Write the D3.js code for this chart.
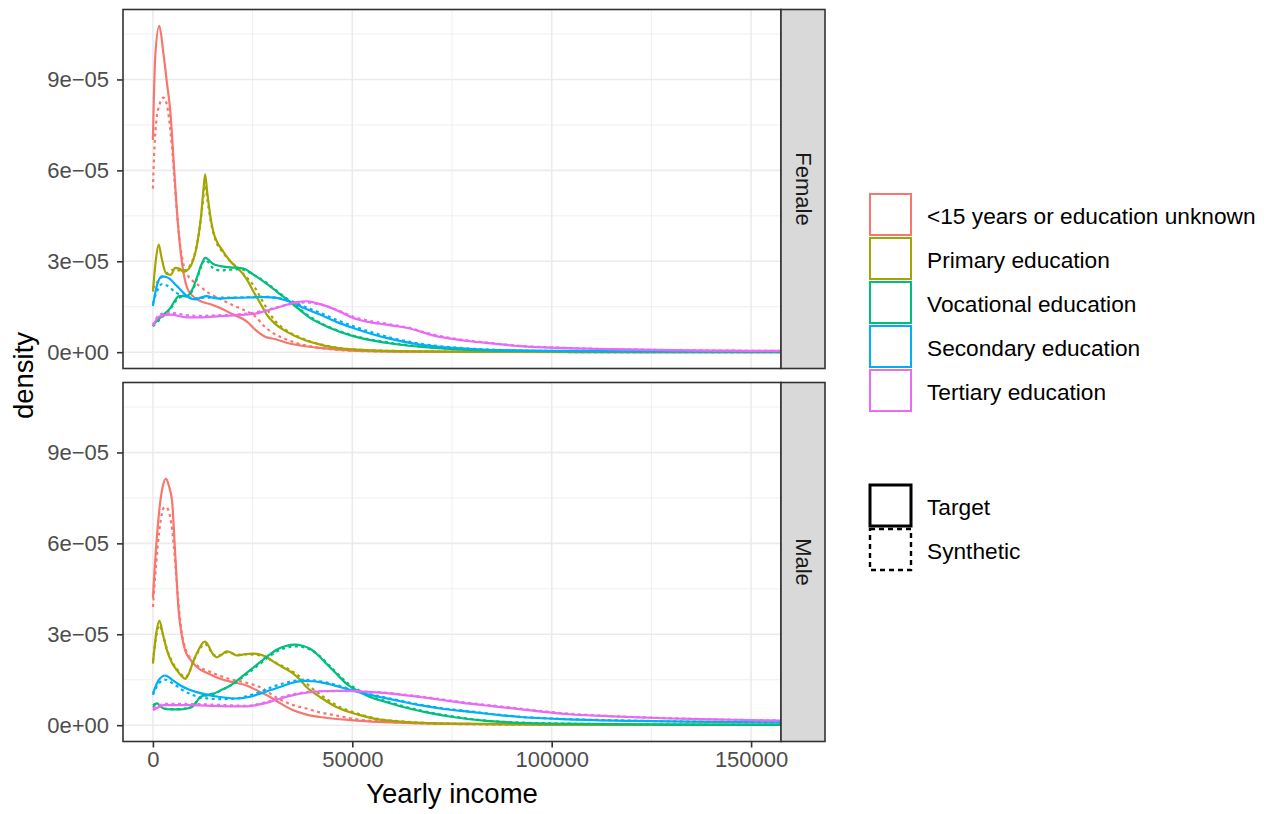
<!DOCTYPE html>
<html lang="en">
<head>
<meta charset="UTF-8">
<title>Income density by education</title>
<script src="https://d3js.org/d3.v7.min.js"></script>
<style>
  body { margin: 0; background: #fff; }
  text { font-family: "Liberation Sans", Arial, Helvetica, sans-serif; }
</style>
</head>
<body>
<script>
// categories and series, densities in units of 1e-5
var categories = ["<15 years or education unknown", "Primary education", "Vocational education", "Secondary education", "Tertiary education"];
var colors = ["#F8766D", "#A3A500", "#00BF7D", "#00B0F6", "#E76BF3"];
var genders = ["Female", "Male"];
var types = ["Target", "Synthetic"];
var xTicks = [0, 50000, 100000, 150000];
var xMinor = [25000, 75000, 125000];
var yTicks = [0, 3e-5, 6e-5, 9e-5];
var yMinor = [1.5e-5, 4.5e-5, 7.5e-5, 10.5e-5];
var xLimits = [0, 150000];
var unit = 1e-5;

// [income, density/1e-5] pairs, one list per category
var femaleTarget = [
  [[0,7.0],[600,9.8],[1600,10.77],[2600,9.9],[3500,8.9],[4400,7.9],[5200,6.3],[6000,4.7],[6800,3.5],[7700,2.6],[8500,2.15],[10000,1.85],[12000,1.68],[14500,1.58],[17000,1.45],[20000,1.25],[23500,1.02],[26000,0.7],[28000,0.52],[31000,0.42],[33500,0.31],[37000,0.22],[42000,0.14],[50000,0.05],[60000,0.02],[80000,0.01],[160000,0]],
  [[0,2.0],[700,3.0],[1450,3.55],[2200,3.1],[3300,2.6],[4500,2.55],[5600,2.78],[6700,2.75],[7700,2.65],[9000,2.75],[10000,3.0],[11000,3.5],[12000,4.4],[12700,5.4],[13100,5.87],[13600,5.3],[14400,4.5],[15200,3.95],[16000,3.66],[17500,3.35],[19400,3.0],[21000,2.8],[22700,2.56],[24000,2.3],[25200,2.0],[27000,1.6],[28500,1.25],[30500,0.95],[33500,0.68],[37700,0.42],[42000,0.25],[46000,0.14],[55000,0.06],[65000,0.03],[80000,0.01],[160000,0]],
  [[0,0.9],[1500,1.1],[2700,1.24],[4400,1.46],[5500,1.7],[6500,1.85],[8500,1.85],[10000,2.1],[11000,2.45],[12200,2.9],[13100,3.11],[14000,3.05],[14800,2.94],[16900,2.84],[19400,2.8],[21500,2.78],[22700,2.76],[25200,2.56],[27700,2.34],[31000,2.01],[35200,1.57],[39400,1.13],[44400,0.8],[50200,0.53],[58500,0.31],[66900,0.18],[75200,0.1],[92000,0.04],[120000,0.02],[160000,0.01]],
  [[0,1.52],[1000,2.2],[2300,2.5],[3300,2.48],[4400,2.4],[5500,2.25],[6500,2.12],[8500,1.85],[10600,1.74],[12000,1.8],[13550,1.85],[15000,1.8],[16900,1.77],[20000,1.79],[25200,1.81],[28000,1.82],[31000,1.79],[33000,1.72],[35200,1.63],[38000,1.45],[41900,1.24],[46000,1.0],[50200,0.8],[58500,0.47],[66900,0.25],[75200,0.14],[83600,0.08],[100000,0.04],[130000,0.02],[160000,0.01]],
  [[0,0.86],[1000,1.1],[1900,1.19],[4400,1.24],[8500,1.15],[12000,1.15],[16900,1.19],[21000,1.22],[25200,1.26],[28000,1.35],[31000,1.46],[34000,1.58],[36000,1.65],[38600,1.68],[41000,1.62],[43500,1.52],[47000,1.33],[50200,1.13],[54000,1.0],[58500,0.91],[62000,0.84],[64400,0.78],[67500,0.66],[71000,0.53],[75000,0.44],[79400,0.36],[85000,0.29],[91900,0.2],[100000,0.15],[115000,0.1],[130000,0.07],[145000,0.05],[160000,0.04]]
];
var femaleSynthetic = [
  [[0,5.4],[300,6.5],[700,7.4],[1500,8.1],[2700,8.4],[3600,8.1],[4400,7.3],[5000,6.4],[5800,5.0],[6600,3.8],[7500,3.0],[8500,2.6],[10000,2.35],[11500,2.2],[14000,1.95],[17000,1.75],[20000,1.55],[23000,1.38],[25500,1.2],[28000,0.85],[30500,0.6],[33500,0.42],[36000,0.3],[40000,0.18],[46000,0.08],[55000,0.03],[80000,0.01],[160000,0]],
  [[0,2.1],[1000,2.3],[2000,2.45],[3500,2.6],[5000,2.72],[6500,2.7],[8000,2.7],[9500,2.9],[10500,3.25],[11500,3.9],[12400,4.8],[13100,5.5],[13700,5.0],[14400,4.4],[15200,3.9],[16000,3.6],[17500,3.3],[19400,3.0],[21000,2.8],[22700,2.58],[24000,2.4],[25500,2.15],[27000,1.8],[28500,1.45],[30500,1.05],[33500,0.72],[37700,0.44],[42000,0.26],[46000,0.15],[55000,0.06],[65000,0.03],[80000,0.01],[160000,0]],
  [[0,0.85],[1500,1.05],[2700,1.2],[4400,1.42],[5500,1.65],[6500,1.8],[8500,1.85],[10000,2.05],[11000,2.4],[12200,2.85],[13100,3.05],[14000,2.95],[15000,2.78],[16900,2.7],[19400,2.72],[21500,2.74],[22700,2.72],[25200,2.56],[27700,2.36],[31000,2.03],[35200,1.6],[39400,1.17],[44400,0.82],[50200,0.55],[58500,0.33],[66900,0.19],[75200,0.11],[92000,0.05],[120000,0.02],[160000,0.01]],
  [[0,1.6],[1000,2.0],[2300,2.25],[3500,2.2],[4500,2.1],[6000,1.95],[8000,1.85],[10600,1.78],[13500,1.8],[16900,1.8],[20000,1.8],[25200,1.82],[28000,1.83],[31000,1.8],[33000,1.74],[35200,1.66],[38000,1.5],[41900,1.3],[46000,1.07],[50200,0.86],[58500,0.52],[66900,0.28],[75200,0.16],[83600,0.09],[100000,0.04],[130000,0.02],[160000,0.01]],
  [[0,0.9],[1000,1.15],[1900,1.25],[4400,1.3],[8500,1.22],[12000,1.2],[16900,1.22],[21000,1.25],[25200,1.3],[28000,1.38],[31000,1.48],[34000,1.57],[36000,1.62],[38600,1.64],[41000,1.6],[43500,1.52],[47000,1.35],[50200,1.17],[54000,1.04],[58500,0.94],[62000,0.86],[64400,0.8],[67500,0.68],[71000,0.56],[75000,0.46],[79400,0.38],[85000,0.3],[91900,0.21],[100000,0.16],[115000,0.1],[130000,0.07],[145000,0.05],[160000,0.04]]
];
var maleTarget = [
  [[0,4.2],[500,5.3],[1050,6.3],[1875,7.4],[2600,7.95],[3300,8.14],[4000,7.9],[4800,7.4],[5600,5.64],[6450,3.78],[7200,3.0],[8100,2.46],[9500,2.15],[11000,1.92],[14000,1.7],[16900,1.53],[20000,1.42],[23500,1.31],[26500,1.12],[29400,0.93],[32000,0.72],[35200,0.49],[38500,0.35],[41900,0.27],[50200,0.16],[62000,0.08],[75000,0.04],[100000,0.02],[160000,0.01]],
  [[0,2.03],[800,3.0],[1625,3.45],[2500,3.0],[3550,2.46],[4800,2.05],[6050,1.81],[7200,1.62],[8100,1.53],[9000,1.7],[10200,2.14],[11500,2.5],[12500,2.72],[13100,2.76],[14000,2.6],[15000,2.35],[16000,2.24],[17200,2.32],[18500,2.44],[19800,2.38],[21000,2.3],[23000,2.34],[25200,2.36],[27700,2.3],[29500,2.16],[31000,2.03],[33000,1.88],[35200,1.7],[37000,1.48],[38500,1.26],[41900,0.93],[46000,0.6],[51900,0.33],[56000,0.2],[62000,0.12],[75000,0.05],[100000,0.02],[160000,0.01]],
  [[0,0.66],[1000,0.72],[2000,0.62],[2700,0.55],[4500,0.52],[6900,0.52],[8500,0.55],[9800,0.6],[11000,0.78],[11900,0.93],[13500,1.0],[15200,1.04],[17000,1.15],[19400,1.31],[22700,1.64],[26900,2.08],[29000,2.3],[31000,2.49],[33500,2.62],[35600,2.66],[37500,2.62],[39400,2.52],[41500,2.3],[43500,2.03],[46000,1.7],[48500,1.37],[51500,1.12],[54400,0.93],[58500,0.76],[62700,0.6],[68000,0.44],[75200,0.27],[83600,0.14],[100000,0.05],[130000,0.02],[160000,0.01]],
  [[0,1.04],[1500,1.5],[3100,1.64],[5000,1.48],[6900,1.31],[9000,1.18],[11000,1.09],[14000,0.99],[16900,0.93],[21000,0.88],[24000,0.93],[26900,1.04],[29500,1.16],[31900,1.26],[35000,1.4],[37700,1.46],[40000,1.45],[41900,1.42],[45000,1.33],[48500,1.2],[52500,1.06],[56900,0.93],[62000,0.79],[66900,0.66],[72000,0.55],[79400,0.44],[85000,0.36],[91900,0.27],[104400,0.19],[120000,0.14],[140000,0.11],[160000,0.09]],
  [[0,0.49],[1500,0.6],[2700,0.66],[8500,0.66],[16900,0.63],[23500,0.62],[26500,0.68],[29400,0.77],[32000,0.88],[35200,0.99],[38500,1.07],[41900,1.12],[46000,1.13],[50200,1.13],[54000,1.1],[58500,1.06],[62000,1.01],[66900,0.93],[72000,0.84],[79400,0.71],[85000,0.63],[91900,0.53],[98000,0.44],[104400,0.36],[115000,0.29],[130000,0.22],[145000,0.18],[160000,0.15]]
];
var maleSynthetic = [
  [[0,3.9],[500,4.8],[1200,5.9],[2000,6.8],[2700,7.17],[3300,7.2],[4200,6.95],[5050,6.19],[5800,5.0],[6500,3.9],[7300,3.0],[8200,2.5],[9500,2.2],[11000,1.98],[14000,1.78],[17000,1.62],[20000,1.5],[23500,1.4],[27700,1.2],[30500,0.95],[33000,0.78],[35500,0.65],[38500,0.55],[42000,0.42],[46000,0.32],[50200,0.21],[62000,0.09],[75000,0.04],[100000,0.02],[160000,0.01]],
  [[0,2.1],[800,2.9],[1625,3.3],[2500,3.0],[3550,2.5],[4800,2.1],[6050,1.85],[7200,1.66],[8100,1.58],[9000,1.72],[10200,2.12],[11500,2.45],[12500,2.65],[13100,2.68],[14000,2.55],[15000,2.35],[16000,2.28],[17200,2.33],[18500,2.4],[19800,2.37],[21000,2.32],[23000,2.34],[25200,2.33],[27700,2.28],[29500,2.16],[31000,2.05],[33000,1.92],[35200,1.76],[37000,1.58],[38500,1.38],[41900,1.02],[46000,0.66],[51900,0.36],[56000,0.22],[62000,0.13],[75000,0.05],[100000,0.02],[160000,0.01]],
  [[0,0.6],[1000,0.68],[2000,0.6],[2700,0.55],[4500,0.53],[6900,0.53],[8500,0.56],[9800,0.62],[11000,0.78],[11900,0.9],[13500,0.98],[15200,1.03],[17000,1.14],[19400,1.3],[22700,1.6],[26900,2.03],[29000,2.25],[31000,2.43],[33500,2.56],[35600,2.6],[37500,2.58],[39400,2.5],[41500,2.32],[43500,2.07],[46000,1.74],[48500,1.42],[51500,1.16],[54400,0.97],[58500,0.79],[62700,0.63],[68000,0.46],[75200,0.29],[83600,0.15],[100000,0.06],[130000,0.02],[160000,0.01]],
  [[0,1.0],[1500,1.38],[3100,1.5],[5000,1.38],[6900,1.2],[9000,1.05],[11000,0.95],[14000,0.88],[16900,0.86],[21000,0.88],[24000,0.98],[26900,1.1],[29500,1.24],[31900,1.35],[35000,1.45],[37700,1.5],[40000,1.48],[41900,1.45],[45000,1.36],[48500,1.23],[52500,1.08],[56900,0.95],[62000,0.81],[66900,0.68],[72000,0.57],[79400,0.46],[85000,0.37],[91900,0.28],[104400,0.2],[120000,0.15],[140000,0.11],[160000,0.09]],
  [[0,0.55],[1500,0.65],[2700,0.7],[8500,0.7],[16900,0.67],[23500,0.64],[26500,0.7],[29400,0.8],[32000,0.91],[35200,1.02],[38500,1.09],[41900,1.12],[46000,1.12],[50200,1.12],[54000,1.1],[58500,1.07],[62000,1.02],[66900,0.95],[72000,0.86],[79400,0.73],[85000,0.65],[91900,0.55],[98000,0.46],[104400,0.38],[115000,0.3],[130000,0.23],[145000,0.18],[160000,0.15]]
];

var seriesByGender = {
  Female: { Target: femaleTarget, Synthetic: femaleSynthetic },
  Male: { Target: maleTarget, Synthetic: maleSynthetic }
};

var W = 1273, H = 814;
var pLeft = 123, pRight = 781, stripW = 44;
var pTops = [9.5, 382.5], pH = 359;
var font = "'Liberation Sans', Arial, Helvetica, sans-serif";

var svg = d3.select("body").append("svg")
    .attr("width", W)
    .attr("height", H);

// scales, ggplot-style 5% expansion
var xSpan = xLimits[1] - xLimits[0];
var x = d3.scaleLinear()
    .domain([xLimits[0] - 0.05 * xSpan, xLimits[1] + 0.05 * xSpan])
    .range([pLeft, pRight]);

var yMax = d3.max([femaleTarget, femaleSynthetic, maleTarget, maleSynthetic], function(s) {
    return d3.max(s, function(c) { return d3.max(c, function(d) { return d[1]; }); });
}) * unit;

function fmtSci(v) {
    if (v === 0) return "0e+00";
    var parts = v.toExponential(0).split("e");
    var e = +parts[1];
    return parts[0] + "e" + (e < 0 ? "\u2212" : "+") + String(Math.abs(e)).padStart(2, "0");
}

var line = d3.line().curve(d3.curveMonotoneX);

genders.forEach(function(g, gi) {
    var top = pTops[gi];
    var y = d3.scaleLinear()
        .domain([-0.05 * yMax, 1.05 * yMax])
        .range([top + pH, top]);

    var panel = svg.append("g");

    panel.append("rect")
        .attr("x", pLeft).attr("y", top)
        .attr("width", pRight - pLeft).attr("height", pH)
        .attr("fill", "#fff");

    // gridlines
    panel.selectAll(".gx-minor").data(xMinor).enter().append("line")
        .attr("x1", function(d) { return x(d); }).attr("x2", function(d) { return x(d); })
        .attr("y1", top).attr("y2", top + pH)
        .attr("stroke", "#EBEBEB").attr("stroke-width", 0.8);
    panel.selectAll(".gy-minor").data(yMinor).enter().append("line")
        .attr("x1", pLeft).attr("x2", pRight)
        .attr("y1", function(d) { return y(d); }).attr("y2", function(d) { return y(d); })
        .attr("stroke", "#EBEBEB").attr("stroke-width", 0.8);
    panel.selectAll(".gx").data(xTicks).enter().append("line")
        .attr("x1", function(d) { return x(d); }).attr("x2", function(d) { return x(d); })
        .attr("y1", top).attr("y2", top + pH)
        .attr("stroke", "#EBEBEB").attr("stroke-width", 1.6);
    panel.selectAll(".gy").data(yTicks).enter().append("line")
        .attr("x1", pLeft).attr("x2", pRight)
        .attr("y1", function(d) { return y(d); }).attr("y2", function(d) { return y(d); })
        .attr("stroke", "#EBEBEB").attr("stroke-width", 1.6);

    // clip
    var clipId = "clip" + gi;
    svg.append("clipPath").attr("id", clipId)
        .append("rect")
        .attr("x", pLeft).attr("y", top)
        .attr("width", pRight - pLeft).attr("height", pH);

    line.x(function(d) { return x(d[0]); })
        .y(function(d) { return y(d[1] * unit); });

    var lines = panel.append("g").attr("clip-path", "url(#" + clipId + ")");
    categories.forEach(function(c, ci) {
        types.forEach(function(t) {
            lines.append("path")
                .attr("d", line(seriesByGender[g][t][ci]))
                .attr("fill", "none")
                .attr("stroke", colors[ci])
                .attr("stroke-width", 2.2)
                .attr("stroke-dasharray", t === "Synthetic" ? "3,3.5" : null);
        });
    });

    // border
    panel.append("rect")
        .attr("x", pLeft).attr("y", top)
        .attr("width", pRight - pLeft).attr("height", pH)
        .attr("fill", "none").attr("stroke", "#333333").attr("stroke-width", 1.6);

    // strip
    panel.append("rect")
        .attr("x", pRight).attr("y", top)
        .attr("width", stripW).attr("height", pH)
        .attr("fill", "#D9D9D9").attr("stroke", "#333333").attr("stroke-width", 1.6);
    panel.append("text")
        .attr("transform", "translate(" + (pRight + stripW / 2) + "," + (top + pH / 2) + ") rotate(90)")
        .attr("text-anchor", "middle")
        .attr("dominant-baseline", "central")
        .attr("font-size", 22).attr("fill", "#1A1A1A")
        .text(g);

    // y axis
    var yAxis = panel.append("g")
        .attr("transform", "translate(" + pLeft + ",0)")
        .call(d3.axisLeft(y).tickValues(yTicks).tickFormat(fmtSci).tickSize(6).tickPadding(8));
    yAxis.select(".domain").remove();
    yAxis.selectAll("line").attr("stroke", "#333333").attr("stroke-width", 1.6);
    yAxis.selectAll("text").attr("font-size", 22).attr("fill", "#4D4D4D").style("font-family", font);

    if (gi === genders.length - 1) {
        var xAxis = panel.append("g")
            .attr("transform", "translate(0," + (top + pH) + ")")
            .call(d3.axisBottom(x).tickValues(xTicks).tickFormat(d3.format("d")).tickSize(6).tickPadding(4));
        xAxis.select(".domain").remove();
        xAxis.selectAll("line").attr("stroke", "#333333").attr("stroke-width", 1.6);
        xAxis.selectAll("text").attr("font-size", 22).attr("fill", "#4D4D4D").style("font-family", font);
    }
});

// axis titles
svg.append("text")
    .attr("x", (pLeft + pRight) / 2).attr("y", 803)
    .attr("text-anchor", "middle")
    .attr("font-size", 27.5).attr("fill", "#000")
    .text("Yearly income");
svg.append("text")
    .attr("transform", "translate(33," + (pTops[0] + (pTops[1] + pH - pTops[0]) / 2) + ") rotate(-90)")
    .attr("text-anchor", "middle")
    .attr("font-size", 27.5).attr("fill", "#000")
    .text("density");

// colour legend
var keyX = 870, keySize = 41, keyStep = 44, labelX = 927;
var colLeg = svg.append("g");
categories.forEach(function(c, i) {
    var ky = 194 + i * keyStep;
    colLeg.append("rect")
        .attr("x", keyX).attr("y", ky)
        .attr("width", keySize).attr("height", keySize)
        .attr("fill", "#fff").attr("stroke", colors[i]).attr("stroke-width", 2);
    colLeg.append("text")
        .attr("x", labelX).attr("y", ky + keySize / 2 + 1)
        .attr("dominant-baseline", "central")
        .attr("font-size", 22.7).attr("fill", "#000")
        .text(c);
});

// linetype legend
var ltLeg = svg.append("g");
types.forEach(function(t, i) {
    var ky = 485 + i * keyStep;
    ltLeg.append("rect")
        .attr("x", keyX).attr("y", ky)
        .attr("width", keySize).attr("height", keySize)
        .attr("fill", "#fff").attr("stroke", "#000")
        .attr("stroke-width", t === "Target" ? 3 : 2.4)
        .attr("stroke-dasharray", t === "Synthetic" ? "5,4" : null);
    ltLeg.append("text")
        .attr("x", labelX).attr("y", ky + keySize / 2 + 1)
        .attr("dominant-baseline", "central")
        .attr("font-size", 22.7).attr("fill", "#000")
        .text(t);
});
</script>
</body>
</html>
